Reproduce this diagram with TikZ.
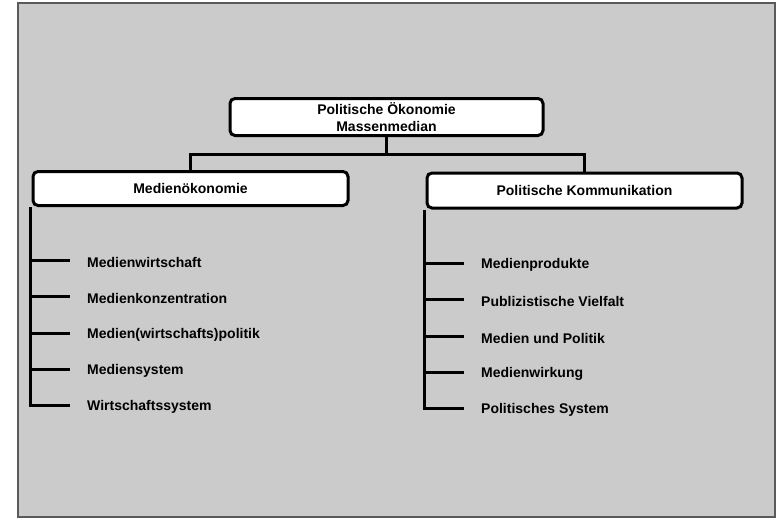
\documentclass[tikz,border=0pt]{standalone}
\usepackage{fontspec}
\setmainfont{Liberation Sans}
\begin{document}
\begin{tikzpicture}[x=1pt,y=-1pt,
  box/.style={draw=black,fill=white,line width=3pt,rounded corners=5pt,inner sep=0pt,
    font=\fontsize{14}{17}\selectfont\bfseries,align=center},
  item/.style={anchor=west,inner sep=0pt,font=\fontsize{14}{17}\selectfont\bfseries},
  conn/.style={draw=black,line width=3pt}]
\useasboundingbox (0,0) rectangle (780,520);
\fill[white] (0,0) rectangle (780,520);
\draw[fill={rgb,255:red,203;green,203;blue,203},draw={rgb,255:red,90;green,90;blue,90},line width=1.5pt] (18,3) rectangle (775,517);
% boxes
\node[box,minimum width=313pt,minimum height=37pt] (top) at (386.5,117) {Politische Ökonomie\\Massenmedian};
\node[box,minimum width=315pt,minimum height=34pt] (left) at (190.5,188.5) {Medienökonomie};
\node[box,minimum width=315pt,minimum height=35pt] (right) at (584.5,190.5) {Politische Kommunikation};
% tree connectors
\draw[conn] (top.south) -- ++(0,17) coordinate (hub) -| (left.north);
\draw[conn] (hub) -| (right.north);
% left items
\node[item] (l1) at (87,262) {Medienwirtschaft};
\node[item] (l2) at (87,298) {Medienkonzentration};
\node[item] (l3) at (87,335) {Medien(wirtschafts)politik};
\node[item] (l4) at (87,371) {Mediensystem};
\node[item] (l5) at (87,407) {Wirtschaftssystem};
\coordinate (la) at ([xshift=-1pt]left.south west);
\draw[conn] (la) |- ([xshift=-17pt,yshift=1.5pt]l5.west);
\foreach \n in {l1,l2,l3,l4}
  \draw[conn] ([yshift=1.5pt]la |- \n.west) -- ([xshift=-17pt,yshift=1.5pt]\n.west);
% right items
\node[item] (r1) at (481,265) {Medienprodukte};
\node[item] (r2) at (481,301) {Publizistische Vielfalt};
\node[item] (r3) at (481,338) {Medien und Politik};
\node[item] (r4) at (481,374) {Medienwirkung};
\node[item] (r5) at (481,410) {Politisches System};
\coordinate (ra) at ([xshift=-1pt]right.south west);
\draw[conn] (ra) |- ([xshift=-17pt,yshift=1.5pt]r5.west);
\foreach \n in {r1,r2,r3,r4}
  \draw[conn] ([yshift=1.5pt]ra |- \n.west) -- ([xshift=-17pt,yshift=1.5pt]\n.west);
\end{tikzpicture}
\end{document}
